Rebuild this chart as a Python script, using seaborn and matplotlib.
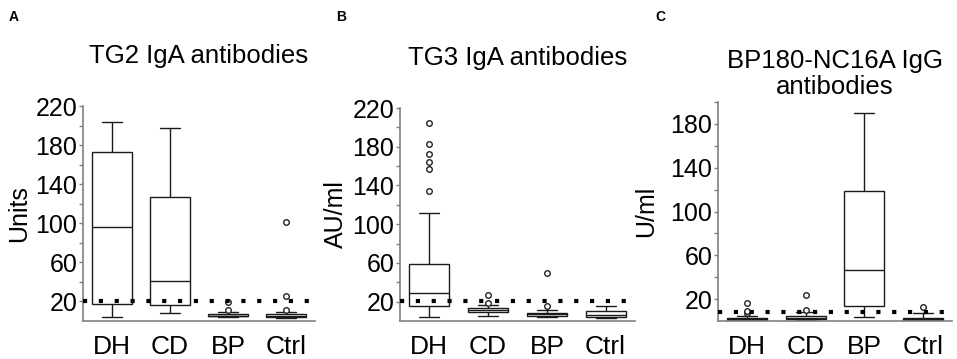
import numpy as np
import matplotlib.pyplot as plt
import pandas as pd
import seaborn as sns

groups = ["DH", "CD", "BP", "Ctrl"]

# box summaries: low whisker, Q1, median, Q3, high whisker
tg2_box = [[4.6, 17, 96, 173, 204],
           [8, 16, 41, 127, 198],
           [4, 4.8, 5.5, 7, 9],
           [3, 4.5, 5.5, 7, 9]]
tg2_out = [[], [], [11, 19], [11, 26, 101]]

tg3_box = [[4, 16, 29, 59, 112],
           [5, 9.5, 11, 13, 17],
           [4, 5, 7, 8.5, 11],
           [3, 4, 6, 10, 15]]
tg3_out = [[134, 157, 164, 172, 183, 205], [19, 27], [15, 50], []]

bp_box = [[0, 1, 1.5, 2.5, 5],
          [0.5, 1.5, 3, 4.5, 8],
          [4, 14, 47, 119, 190],
          [0, 0.5, 1.5, 3, 7]]
bp_out = [[7, 9, 16], [10, 24], [], [12.5]]

cutoffs = [20, 21, 8]
titles = ["TG2 IgA antibodies", "TG3 IgA antibodies", "BP180-NC16A IgG\nantibodies"]
ylabels = ["Units", "AU/ml", "U/ml"]
letters = ["A", "B", "C"]

sns.set_style("ticks")
plt.rcParams['font.family'] = ['Liberation Sans', 'DejaVu Sans']
plt.rcParams['text.color'] = 'black'
plt.rcParams['axes.labelcolor'] = 'black'
plt.rcParams['xtick.labelcolor'] = 'black'
plt.rcParams['ytick.labelcolor'] = 'black'

W, H = 957, 359
fig = plt.figure(figsize=(W / 100, H / 100), dpi=100)

# axes rectangles in pixels: left, right, top, bottom
rects = [(83, 315, 106, 321), (400, 635, 108, 321), (718, 952, 102, 321)]
ylims = [(0, 220), (0, 220), (0, 200)]
majors = [range(20, 221, 40), range(20, 221, 40), range(20, 181, 40)]
minors = [range(40, 201, 40), range(40, 201, 40), range(40, 201, 40)]
pads = [31, 31, 6]
labelpads = [3, 3, 9]
letter_x = [9, 336, 655]


def long_form(lists):
    rows = []
    for g, vals in zip(groups, lists):
        for v in vals:
            rows.append((g, v))
    return pd.DataFrame(rows, columns=["group", "value"])


panels = [(tg2_box, tg2_out), (tg3_box, tg3_out), (bp_box, bp_out)]
for i, (box, out) in enumerate(panels):
    l, r, t, b = rects[i]
    ax = fig.add_axes([l / W, 1 - b / H, (r - l) / W, (b - t) / H])

    sns.boxplot(data=long_form(box), x="group", y="value", order=groups,
                whis=(0, 100), width=0.68, color="white", linecolor="#1a1a1a",
                linewidth=1.0, showfliers=False, ax=ax)
    sns.stripplot(data=long_form(out), x="group", y="value", order=groups,
                  jitter=False, size=4, color="white", edgecolor="#222222",
                  linewidth=1, ax=ax, zorder=4)
    ax.axhline(cutoffs[i], color="black", lw=3, linestyle=(0, (1, 2.8)), zorder=5)

    ax.set_xlim(-0.5, 3.5)
    ax.set_ylim(*ylims[i])
    ax.set_yticks(list(majors[i]))
    ax.set_yticks(list(minors[i]), minor=True)
    ax.tick_params(axis="y", which="both", direction="out", length=3, width=1,
                   color="#808080", labelsize=18, pad=1)
    ax.tick_params(axis="x", length=0, labelsize=19, pad=10)
    ax.set_xlabel("")
    ax.set_ylabel(ylabels[i], fontsize=18, labelpad=labelpads[i])
    ax.set_title(titles[i], fontsize=18.5, pad=pads[i], linespacing=1.1)
    sns.despine(ax=ax)
    for s in ["left", "bottom"]:
        ax.spines[s].set_color("#808080")
        ax.spines[s].set_linewidth(1.2)

    fig.text(letter_x[i] / W, 1 - 10 / H, letters[i], fontsize=10,
             fontweight="bold", va="top", ha="left")

fig.savefig("out.png", dpi=100)
